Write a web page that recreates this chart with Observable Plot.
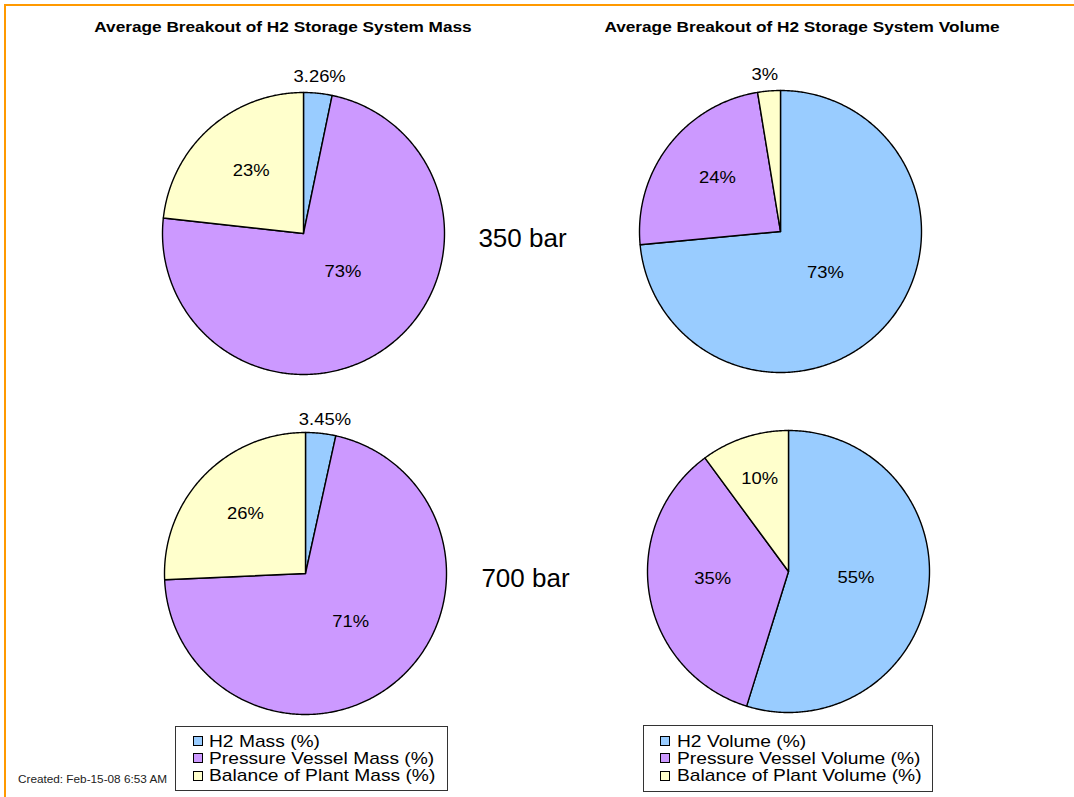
<!DOCTYPE html>
<html>
<head>
<meta charset="utf-8">
<script src="https://cdn.jsdelivr.net/npm/d3@7"></script>
<script src="https://cdn.jsdelivr.net/npm/@observablehq/plot@0.6"></script>
<style>
  body { margin: 0; background: #fff; font-family: "Liberation Sans", Arial, sans-serif; color: #000; }
  #page { position: relative; width: 1074px; height: 797px; overflow: hidden; background: #fff; }
  #page svg { position: absolute; left: 0; top: 0; }
  .border { position: absolute; left: 4px; top: 4px; width: 1080px; height: 800px; border-top: 2px solid #FF9900; border-left: 2px solid #FF9900; }
  .title { position: absolute; font-weight: bold; font-size: 14px; line-height: 14px; white-space: nowrap; transform: translateX(-50%) scaleX(1.23); transform-origin: center; }
  .legend { position: absolute; background: #fff; border: 1px solid #333; box-sizing: border-box; }
  .legend .sw { position: absolute; width: 8px; height: 8px; border: 1px solid #000; }
  .legend .lt { position: absolute; font-size: 17px; line-height: 17px; white-space: nowrap; transform: scaleX(1.13); transform-origin: left center; }
  .caption { position: absolute; font-size: 10.5px; line-height: 10.5px; white-space: nowrap; transform: scaleX(1.12); transform-origin: left center; color: #222; }
</style>
</head>
<body>
<div id="page"></div>
<script>
// ---- data ----
const categories = ["H2", "Pressure Vessel", "Balance of Plant"];
const colors = ["#99CCFF", "#CC99FF", "#FFFFCC"];
const titles = ["Average Breakout of H2 Storage System Mass", "Average Breakout of H2 Storage System Volume"];
const pressures = ["350 bar", "700 bar"];
const massLegend = ["H2 Mass (%)", "Pressure Vessel Mass (%)", "Balance of Plant Mass (%)"];
const volumeLegend = ["H2 Volume (%)", "Pressure Vessel Volume (%)", "Balance of Plant Volume (%)"];
const mass350 = [3.26, 73.5, 23.24];
const mass350Labels = ["3.26%", "73%", "23%"];
const volume350 = [73.5, 23.9, 2.6];
const volume350Labels = ["73%", "24%", "3%"];
const mass700 = [3.45, 70.85, 25.7];
const mass700Labels = ["3.45%", "71%", "26%"];
const volume700 = [54.8, 35.1, 10.1];
const volume700Labels = ["55%", "35%", "10%"];
const caption = "Created: Feb-15-08 6:53 AM";

// ---- layout ----
const W = 1074, H = 797, R = 141;
const pies = [
  {values: mass350, labels: mass350Labels, cx: 303, cy: 233, labelR: [1.12, 0.39, 0.58], labelShift: [0, -10, 2]},
  {values: volume350, labels: volume350Labels, cx: 780, cy: 231, labelR: [0.43, 0.59, 1.12], labelShift: [0, 3, -1]},
  {values: mass700, labels: mass700Labels, cx: 305, cy: 573, labelR: [1.1, 0.47, 0.6], labelShift: [1, -3, 1]},
  {values: volume700, labels: volume700Labels, cx: 788, cy: 571, labelR: [0.48, 0.54, 0.69], labelShift: [-3.6, 4, 1]}
];
const pressurePos = [{x: 522, y: 238}, {x: 525, y: 578}];

const slices = [], labelData = [];
pies.forEach((p, pi) => {
  const total = d3.sum(p.values);
  let acc = 0;
  p.values.forEach((v, i) => {
    const a0 = acc / total * 2 * Math.PI; acc += v;
    const a1 = acc / total * 2 * Math.PI;
    const key = pi + "-" + i, cat = categories[i];
    slices.push({key, cat, x: p.cx, y: p.cy});
    const n = Math.max(2, Math.ceil((a1 - a0) / (Math.PI / 360)));
    for (let k = 0; k <= n; k++) {
      const a = a0 + (a1 - a0) * k / n;
      slices.push({key, cat, x: p.cx + R * Math.sin(a), y: p.cy - R * Math.cos(a)});
    }
    slices.push({key, cat, x: p.cx, y: p.cy});
    const am = (a0 + a1) / 2 + p.labelShift[i] * Math.PI / 180;
    labelData.push({text: p.labels[i], x: p.cx + p.labelR[i] * R * Math.sin(am), y: p.cy - p.labelR[i] * R * Math.cos(am)});
  });
});
const pressureData = pressures.map((t, i) => ({text: t, ...pressurePos[i]}));

const chart = Plot.plot({
  width: W, height: H, margin: 0,
  x: {domain: [0, W], range: [0, W], axis: null},
  y: {domain: [0, H], range: [0, H], axis: null},
  color: {domain: categories, range: colors},
  style: {background: "transparent", fontFamily: "Liberation Sans, Arial, sans-serif"},
  marks: [
    Plot.line(slices, {x: "x", y: "y", z: "key", fill: "cat", stroke: "#000", strokeWidth: 1.4, strokeLinejoin: "round", curve: "linear"}),
    Plot.text(labelData, {x: "x", y: "y", text: "text", fontSize: 16.3, fill: "#000"}),
    Plot.text(pressureData, {x: "x", y: "y", text: "text", fontSize: 25, fill: "#000"})
  ]
});

const page = document.getElementById("page");
page.appendChild(chart);

// widen text horizontally (the reference renders its text wide)
d3.select(chart).selectAll("text").each(function () {
  const f = /bar/.test(this.textContent) ? 1.04 : 1.13;
  const tr = this.getAttribute("transform");
  if (tr && /translate/.test(tr)) {
    this.setAttribute("transform", tr + ` scale(${f},1)`);
  } else {
    const x = +(this.getAttribute("x") || 0), y = +(this.getAttribute("y") || 0);
    this.setAttribute("transform", `translate(${x},${y}) scale(${f},1) translate(${-x},${-y})` + (tr ? " " + tr : ""));
  }
});

// border
const border = document.createElement("div");
border.className = "border";
page.appendChild(border);

// titles
[282.5, 801.5].forEach((cx, i) => {
  const t = document.createElement("div");
  t.className = "title";
  t.textContent = titles[i];
  t.style.left = cx + "px";
  t.style.top = "20px";
  page.appendChild(t);
});

// legends
const legends = [
  {items: massLegend, left: 175, top: 726, width: 273, height: 65, sw: 17, tx: 33, first: 14},
  {items: volumeLegend, left: 643, top: 725, width: 290, height: 67, sw: 16, tx: 33, first: 15}
];
legends.forEach(lg => {
  const box = document.createElement("div");
  box.className = "legend";
  Object.assign(box.style, {left: lg.left + "px", top: lg.top + "px", width: lg.width + "px", height: lg.height + "px"});
  lg.items.forEach((txt, i) => {
    const cy = lg.first + i * 17.3;
    const sw = document.createElement("div");
    sw.className = "sw";
    Object.assign(sw.style, {left: lg.sw + "px", top: (cy - 5) + "px", background: colors[i]});
    const lt = document.createElement("div");
    lt.className = "lt";
    lt.textContent = txt;
    Object.assign(lt.style, {left: lg.tx + "px", top: (cy - 8.3) + "px"});
    box.appendChild(sw); box.appendChild(lt);
  });
  page.appendChild(box);
});

// caption
const cap = document.createElement("div");
cap.className = "caption";
cap.textContent = caption;
cap.style.left = "18px";
cap.style.top = "774px";
page.appendChild(cap);
</script>
</body>
</html>
